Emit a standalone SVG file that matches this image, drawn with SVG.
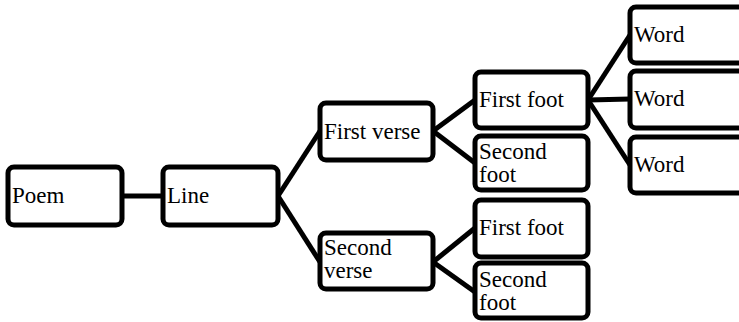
<svg xmlns="http://www.w3.org/2000/svg" width="739" height="322" viewBox="0 0 739 322">
<style>
rect{fill:#fff;stroke:#000;stroke-width:5}
text{font-family:"Liberation Serif","Times New Roman",serif;font-size:23px;fill:#000}
.c line{stroke:#000;stroke-width:5}
</style>
<rect x="0" y="0" width="739" height="322" style="stroke:none"/>
<g class="c">
<line x1="122" y1="196" x2="163" y2="196"/>
<line x1="278" y1="196" x2="320" y2="131"/>
<line x1="278" y1="196" x2="320" y2="262"/>
<line x1="433" y1="131" x2="475" y2="100"/>
<line x1="433" y1="131" x2="475" y2="163"/>
<line x1="433" y1="262" x2="475" y2="228"/>
<line x1="433" y1="262" x2="475" y2="292"/>
<line x1="588" y1="100" x2="630" y2="35"/>
<line x1="588" y1="100" x2="630" y2="99"/>
<line x1="588" y1="100" x2="630" y2="165"/>
</g>
<g id="poem"><rect x="8" y="167" width="114" height="58" rx="6"/><text x="12" y="203">Poem</text></g>
<g id="line"><rect x="163" y="167" width="115" height="58" rx="6"/><text x="167" y="203">Line</text></g>
<g id="first-verse"><rect x="320" y="103" width="113" height="57" rx="6"/><text x="324" y="139">First verse</text></g>
<g id="second-verse"><rect x="320" y="233" width="113" height="56" rx="6"/><text x="324" y="255">Second</text><text x="324" y="278">verse</text></g>
<g id="first-foot-1"><rect x="475" y="72" width="113" height="56" rx="6"/><text x="479" y="107">First foot</text></g>
<g id="second-foot-1"><rect x="475" y="136" width="113" height="54" rx="6"/><text x="479" y="159">Second</text><text x="479" y="182">foot</text></g>
<g id="first-foot-2"><rect x="475" y="200" width="113" height="57" rx="6"/><text x="479" y="235">First foot</text></g>
<g id="second-foot-2"><rect x="475" y="263" width="113" height="55" rx="6"/><text x="479" y="287">Second</text><text x="479" y="310">foot</text></g>
<g id="word-1"><rect x="630" y="7" width="116" height="56" rx="6"/><text x="634" y="42">Word</text></g>
<g id="word-2"><rect x="630" y="71" width="116" height="57" rx="6"/><text x="634" y="106">Word</text></g>
<g id="word-3"><rect x="630" y="137" width="116" height="56" rx="6"/><text x="634" y="172">Word</text></g>
</svg>
